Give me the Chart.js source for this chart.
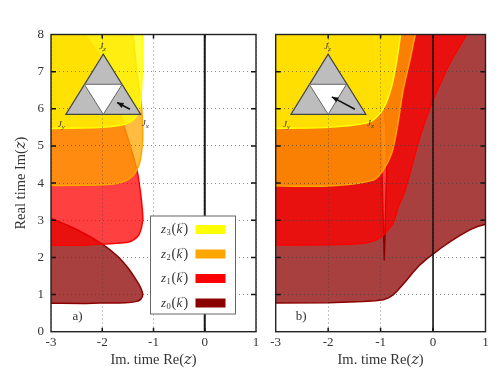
<!DOCTYPE html>
<html><head><meta charset="utf-8">
<style>html,body{margin:0;padding:0;background:#fff;width:500px;height:380px;overflow:hidden}
canvas{position:absolute;top:0}</style>
<script src="https://cdn.jsdelivr.net/npm/chart.js@4"></script></head>
<body><canvas id="a" width="266" height="380" style="left:0"></canvas><canvas id="b" width="234" height="380" style="left:266px"></canvas>
<script>
const xTicks=[-3,-2,-1,0,1], yTicks=[0,1,2,3,4,5,6,7,8];
const P=(s)=>s.map(p=>({x:p[0],y:p[1]}));
// panel a) regions (outer points lie past the frame and are clipped)
const a_z0=[[-3.2,0.77],[-2.4,0.76],[-2.05,0.77],[-1.55,0.78],[-1.35,0.81],[-1.25,0.87],[-1.21,1.0],[-1.25,1.18],[-1.35,1.42],[-1.5,1.72],[-1.7,2.03],[-2,2.36],[-2.5,2.75],[-3,3.05],[-3.2,3.15]];
const a_z1=[[-3.2,2.33],[-2.4,2.33],[-1.72,2.38],[-1.5,2.41],[-1.39,2.47],[-1.28,2.62],[-1.21,3.0],[-1.23,3.46],[-1.26,3.81],[-1.31,4.27],[-1.4,4.75],[-1.5,5.2],[-1.59,5.6],[-1.8,6.6],[-2.04,7.4],[-2.4,8.1],[-2.6,8.4],[-3.2,8.4]];
const a_z2=[[-3.2,3.93],[-2.4,3.94],[-1.9,3.96],[-1.6,4.03],[-1.4,4.2],[-1.28,4.5],[-1.22,5],[-1.21,5.5],[-1.25,6.33],[-1.3,6.73],[-1.4,8],[-1.43,8.4],[-3.2,8.4]];
const a_z3=[[-3.2,5.47],[-2.4,5.48],[-2,5.5],[-1.6,5.57],[-1.38,5.72],[-1.27,6.0],[-1.22,6.9],[-1.21,8],[-1.21,8.4],[-3.2,8.4]];
// panel b) regions
const b_z0=[[-3.2,0.77],[-2,0.78],[-1.33,0.81],[-1.1,0.83],[-0.95,0.86],[-0.85,0.91],[-0.76,0.99],[-0.68,1.1],[-0.6,1.23],[-0.5,1.39],[-0.38,1.6],[-0.25,1.8],[-0.12,1.96],[0,2.09],[0.16,2.26],[0.32,2.42],[0.5,2.58],[0.7,2.74],[0.85,2.83],[1,2.89],[1.2,3.0],[1.2,8.4],
 [-1.1,8.4],[-1.0,7],[-0.9,5.5],[-0.885,4.3],[-0.91,3],[-0.93,1.92],[-0.95,3],[-0.975,4.3],[-1.0,5.5],[-1.1,7],[-1.2,8.4],[-3.2,8.4]];
const b_z1=[[-3.2,2.33],[-2,2.34],[-1.33,2.38],[-1.1,2.46],[-0.95,2.6],[-0.76,2.92],[-0.66,3.37],[-0.53,3.81],[-0.25,5.25],[0,6.24],[0.32,7.23],[0.64,8],[0.8,8.4],[-3.2,8.4]];
const b_z2=[[-3.2,3.93],[-2,3.92],[-1.14,4.08],[-0.95,4.35],[-0.79,4.8],[-0.69,5.43],[-0.57,6.5],[-0.44,7.31],[-0.34,8],[-0.28,8.4],[-3.2,8.4]];
const b_z3=[[-3.2,5.47],[-2,5.5],[-1.2,5.65],[-0.95,6.0],[-0.79,6.6],[-0.69,7.31],[-0.62,8],[-0.58,8.4],[-3.2,8.4]];
const zeroLine=[[0,0],[0,8]];
// inset triangle vertices in axis units
const a_tri=[[-2.71,5.85],[-1.25,5.85],[-1.98,7.47]], a_mid=[[-2.35,6.66],[-1.61,6.66],[-1.98,5.85]];
const b_tri=[[-2.71,5.85],[-1.28,5.85],[-2,7.47]], b_mid=[[-2.36,6.66],[-1.65,6.66],[-2,5.85]];
const a_arrow=[[-1.46,5.99],[-1.71,6.17]], b_arrow=[[-1.49,5.99],[-1.93,6.32]];
const legendLabels=[["3","#ffff00"],["2","#ffa500"],["1","#ff0000"],["0","#8b0000"]];

const serif='"Liberation Serif","DejaVu Serif",serif', ink='#333';
const fillSet=(pts,rgb,ord,t)=>({data:P(pts),order:ord,showLine:true,pointRadius:0,fill:'shape',tension:t===undefined?0.25:t,borderWidth:1.5,
  borderColor:`rgb(${rgb})`,backgroundColor:`rgba(${rgb},0.75)`});
const R={z0:'139,0,0',z1:'255,0,0',z2:'255,165,0',z3:'255,255,0'};

function drawTicks(chart){
  const {ctx,chartArea:A,scales:{x,y}}=chart;
  ctx.save();ctx.strokeStyle='#111';ctx.lineWidth=1.5;ctx.beginPath();
  xTicks.slice(1,-1).forEach(v=>{const p=x.getPixelForValue(v);ctx.moveTo(p,A.top);ctx.lineTo(p,A.top+4);ctx.moveTo(p,A.bottom);ctx.lineTo(p,A.bottom-4);});
  yTicks.slice(1,-1).forEach(v=>{const p=y.getPixelForValue(v);ctx.moveTo(A.left,p);ctx.lineTo(A.left+5,p);ctx.moveTo(A.right,p);ctx.lineTo(A.right-5,p);});
  ctx.stroke();
  ctx.strokeStyle='#222';ctx.lineWidth=1.4;ctx.strokeRect(A.left,A.top,A.right-A.left,A.bottom-A.top);
  ctx.restore();
}
function label(ctx,x,y,big,sub,size){
  ctx.font=`italic ${size}px ${serif}`;ctx.fillText(big,x,y);
  const w=ctx.measureText(big).width;
  ctx.font=`italic ${size*0.75}px ${serif}`;ctx.fillText(sub,x+w,y+2);
}
function zLabel(ctx,x,y,n){
  ctx.fillStyle=ink;ctx.textAlign='left';ctx.textBaseline='alphabetic';
  ctx.font=`italic 13px ${serif}`;ctx.fillText('z',x,y);
  ctx.font=`8.5px ${serif}`;ctx.fillText(n,x+5.5,y+2);
  ctx.font=`14px ${serif}`;ctx.fillText('(',x+10.5,y);
  ctx.font=`italic 13px ${serif}`;ctx.fillText('k',x+15.5,y);
  ctx.font=`8px ${serif}`;ctx.fillText('→',x+16,y-8);
  ctx.font=`14px ${serif}`;ctx.fillText(')',x+22.5,y);
}
function poly(ctx,x,y,pts,fill,stroke,w){
  ctx.beginPath();
  pts.forEach((p,i)=>{const X=x.getPixelForValue(p[0]),Y=y.getPixelForValue(p[1]);i?ctx.lineTo(X,Y):ctx.moveTo(X,Y);});
  ctx.closePath();ctx.fillStyle=fill;ctx.fill();ctx.strokeStyle=stroke;ctx.lineWidth=w;ctx.stroke();
}
function makeChart(id,sets,opts){
  const over={id:'over',afterDraw(chart){
    const {ctx,scales:{x,y}}=chart;ctx.save();
    const t=opts.tri;
    poly(ctx,x,y,t,'#bdbdbd','#444',1.2);
    poly(ctx,x,y,opts.mid,'#ffffff','#666',1);
    ctx.fillStyle=ink;ctx.textBaseline='alphabetic';ctx.textAlign='left';
    label(ctx,x.getPixelForValue(t[2][0])-4,y.getPixelForValue(t[2][1])-5,'J','z',9);
    label(ctx,x.getPixelForValue(t[0][0])-8,y.getPixelForValue(t[0][1])+13,'J','y',9);
    label(ctx,x.getPixelForValue(t[1][0])+1,y.getPixelForValue(t[1][1])+12,'J','x',9);
    ctx.font=`13px ${serif}`;
    ctx.fillText(opts.tag,x.getPixelForValue(opts.tagX),y.getPixelForValue(0.32));
    // arrow
    const ar=opts.arrow,tip=[x.getPixelForValue(ar[1][0]),y.getPixelForValue(ar[1][1])],b=[x.getPixelForValue(ar[0][0]),y.getPixelForValue(ar[0][1])];
    const ang=Math.atan2(tip[1]-b[1],tip[0]-b[0]);
    ctx.strokeStyle='#111';ctx.lineWidth=1.6;ctx.beginPath();ctx.moveTo(b[0],b[1]);ctx.lineTo(tip[0],tip[1]);ctx.stroke();
    ctx.fillStyle='#111';ctx.beginPath();ctx.moveTo(tip[0],tip[1]);
    ctx.lineTo(tip[0]-7*Math.cos(ang-.4),tip[1]-7*Math.sin(ang-.4));
    ctx.lineTo(tip[0]-7*Math.cos(ang+.4),tip[1]-7*Math.sin(ang+.4));ctx.closePath();ctx.fill();
    drawTicks(chart);
    if(opts.legend){
      ctx.fillStyle='#fff';ctx.strokeStyle='#666';ctx.lineWidth=1;ctx.fillRect(150.5,216,85,98);ctx.strokeRect(150.5,216,85,98);
      legendLabels.forEach((l,i)=>{
        const yy=229.5+i*24.5;
        ctx.fillStyle=l[1];ctx.fillRect(195.5,yy-4.5,30,9);
        zLabel(ctx,161,yy+3.5,l[0]);
      });
    }
    ctx.restore();
  }};
  new Chart(document.getElementById(id),{type:'scatter',data:{datasets:sets},plugins:[over],options:{
    responsive:false,animation:false,
    layout:{padding:{left:opts.padL,right:opts.padR,top:34.5,bottom:15}},
    plugins:{legend:{display:false},tooltip:{enabled:false}},
    scales:{
      x:{type:'linear',min:-3,max:1,afterBuildTicks:s=>{s.ticks=xTicks.map(v=>({value:v}))},
        afterFit:s=>{s.height=380-331.7-15;},
        grid:{z:1,color:'rgba(60,60,60,0.6)',lineWidth:1,drawTicks:false},border:{display:false,dash:[1,3]},
        ticks:{color:ink,font:{family:serif,size:13},padding:3,maxRotation:0,autoSkip:false,callback:v=>String(v)},
        title:{display:true,text:'Im. time Re(𝑧)',color:ink,font:{family:serif,size:14.5},padding:{top:0,bottom:-4}}},
      y:{type:'linear',min:0,max:8,afterBuildTicks:s=>{s.ticks=yTicks.map(v=>({value:v}))},
        afterFit:s=>{s.width=opts.axisW;},
        grid:{z:1,color:'rgba(60,60,60,0.6)',lineWidth:1,drawTicks:false},border:{display:false,dash:[1,3]},
        ticks:{display:opts.yTitle,color:ink,font:{family:serif,size:13},padding:7,autoSkip:false,callback:v=>String(v)},
        title:{display:opts.yTitle,text:'Real time Im(𝑧)',color:ink,font:{family:serif,size:14.5},padding:{top:0,bottom:0}}}
    }}});
}
const zeroSet=(w)=>({data:P(zeroLine),order:0,showLine:true,pointRadius:0,fill:false,borderColor:'#111',borderWidth:w});
const setsA=[fillSet(a_z0,R.z0,4),fillSet(a_z1,R.z1,3),fillSet(a_z2,R.z2,2),fillSet(a_z3,R.z3,1),zeroSet(2)];
const setsB=[fillSet(b_z0,R.z0,4,0),fillSet(b_z1,R.z1,3,0.15),fillSet(b_z2,R.z2,2),fillSet(b_z3,R.z3,1),zeroSet(1.6)];
makeChart('a',setsA,{padL:12.5,padR:10,axisW:38.5,yTitle:true,tri:a_tri,mid:a_mid,arrow:a_arrow,legend:true,tag:'a)',tagX:-2.58});
makeChart('b',setsB,{padL:9.7,padR:14.5,axisW:0,yTitle:false,tri:b_tri,mid:b_mid,arrow:b_arrow,legend:false,tag:'b)',tagX:-2.62});
</script></body></html>
